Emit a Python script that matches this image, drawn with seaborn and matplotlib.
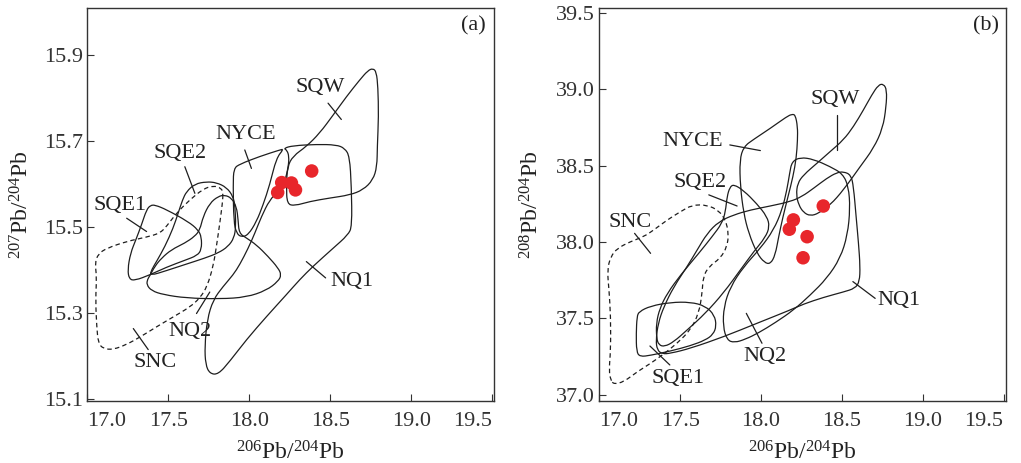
import numpy as np
import matplotlib
matplotlib.use("Agg")
import matplotlib.pyplot as plt
from matplotlib.path import Path
from matplotlib.patches import PathPatch
import seaborn as sns

# ---------------------------------------------------------------------------
# Samples (red dots)
# ---------------------------------------------------------------------------
pb206_204 = [18.385, 18.200, 18.175, 18.285, 18.260]
pb207_204 = [15.630, 15.603, 15.580, 15.586, 15.602]
pb208_204 = [38.235, 38.144, 38.083, 38.034, 37.896]

# ---------------------------------------------------------------------------
# Reference fields, 207Pb/204Pb vs 206Pb/204Pb  (x, y) outline vertices
# ---------------------------------------------------------------------------
SQW_A = [(18.233, 15.553), (18.229, 15.594), (18.235, 15.640), (18.270, 15.665),
         (18.352, 15.687), (18.434, 15.718), (18.517, 15.760), (18.599, 15.803),
         (18.681, 15.842), (18.732, 15.864), (18.763, 15.869), (18.784, 15.861),
         (18.794, 15.826), (18.798, 15.757), (18.790, 15.687), (18.788, 15.640),
         (18.763, 15.609), (18.702, 15.586), (18.619, 15.574), (18.496, 15.567),
         (18.373, 15.559), (18.280, 15.549)]

NQ1_A = [(18.212, 15.683), (18.270, 15.689), (18.414, 15.692), (18.537, 15.691),
         (18.589, 15.683), (18.619, 15.664), (18.630, 15.594), (18.634, 15.501),
         (18.609, 15.481), (18.517, 15.450), (18.393, 15.408), (18.311, 15.377),
         (18.229, 15.342), (18.106, 15.291), (17.982, 15.237), (17.880, 15.187),
         (17.808, 15.156), (17.756, 15.158), (17.730, 15.179), (17.725, 15.222),
         (17.740, 15.284), (17.777, 15.330), (17.838, 15.361), (17.900, 15.388),
         (17.941, 15.412), (17.993, 15.450), (18.034, 15.485), (18.075, 15.524),
         (18.126, 15.563), (18.178, 15.582), (18.219, 15.605), (18.241, 15.640),
         (18.245, 15.664), (18.233, 15.678)]

NYCE_A = [(17.900, 15.598), (17.904, 15.636), (17.941, 15.646), (18.065, 15.664),
          (18.188, 15.679), (18.212, 15.681), (18.167, 15.660), (18.126, 15.598),
          (18.085, 15.551), (18.044, 15.512), (17.993, 15.481), (17.951, 15.476),
          (17.921, 15.485), (17.904, 15.512)]

NQ2_A = [(17.386, 15.386), (17.417, 15.408), (17.458, 15.427), (17.520, 15.447),
         (17.602, 15.462), (17.664, 15.478), (17.695, 15.493), (17.715, 15.524),
         (17.756, 15.555), (17.808, 15.571), (17.849, 15.574), (17.890, 15.567),
         (17.921, 15.547), (17.931, 15.516), (17.937, 15.485), (17.982, 15.474),
         (18.044, 15.458), (18.116, 15.431), (18.178, 15.404), (18.198, 15.388),
         (18.178, 15.373), (18.106, 15.352), (17.982, 15.336), (17.818, 15.332),
         (17.612, 15.334), (17.469, 15.342), (17.397, 15.351), (17.366, 15.365),
         (17.372, 15.378)]

SQE2_A = [(17.736, 15.605), (17.664, 15.600), (17.612, 15.582), (17.588, 15.563),
          (17.561, 15.532), (17.530, 15.497), (17.479, 15.454), (17.427, 15.419),
          (17.397, 15.400), (17.386, 15.386), (17.489, 15.398), (17.602, 15.412),
          (17.725, 15.427), (17.808, 15.439), (17.869, 15.454), (17.906, 15.474),
          (17.917, 15.501), (17.912, 15.547), (17.900, 15.571), (17.859, 15.592),
          (17.797, 15.603)]

SQE1_A = [(17.417, 15.551), (17.489, 15.540), (17.623, 15.512), (17.684, 15.493),
          (17.705, 15.476), (17.705, 15.447), (17.678, 15.433), (17.602, 15.422),
          (17.489, 15.406), (17.386, 15.388), (17.294, 15.375), (17.259, 15.378),
          (17.249, 15.400), (17.267, 15.439), (17.300, 15.470), (17.335, 15.505),
          (17.366, 15.540), (17.390, 15.550)]

SNC_A = [(17.838, 15.578), (17.828, 15.590), (17.777, 15.596), (17.715, 15.588),
         (17.633, 15.563), (17.551, 15.532), (17.489, 15.501), (17.448, 15.485),
         (17.366, 15.476), (17.243, 15.466), (17.119, 15.450), (17.068, 15.437),
         (17.047, 15.416), (17.058, 15.384), (17.051, 15.330), (17.058, 15.268),
         (17.068, 15.229), (17.099, 15.216), (17.160, 15.214), (17.243, 15.226),
         (17.325, 15.243), (17.427, 15.267), (17.530, 15.290), (17.633, 15.313),
         (17.695, 15.334), (17.740, 15.361), (17.777, 15.408), (17.797, 15.454),
         (17.818, 15.509), (17.834, 15.555)]

# ---------------------------------------------------------------------------
# Reference fields, 208Pb/204Pb vs 206Pb/204Pb
# ---------------------------------------------------------------------------
SQW_B = [(18.226, 38.384), (18.218, 38.308), (18.233, 38.242), (18.263, 38.192),
         (18.305, 38.170), (18.356, 38.187), (18.428, 38.242), (18.510, 38.340),
         (18.613, 38.493), (18.696, 38.613), (18.753, 38.744), (18.774, 38.886),
         (18.778, 38.996), (18.757, 39.035), (18.726, 39.028), (18.685, 38.963),
         (18.634, 38.865), (18.572, 38.755), (18.510, 38.668), (18.428, 38.592),
         (18.346, 38.515), (18.263, 38.439)]

NYCE_B = [(18.212, 38.832), (18.226, 38.755), (18.226, 38.668), (18.218, 38.548),
          (18.198, 38.428), (18.167, 38.297), (18.136, 38.166), (18.109, 38.034),
          (18.088, 37.914), (18.058, 37.855), (18.021, 37.864), (17.975, 37.925),
          (17.924, 38.056), (17.893, 38.187), (17.872, 38.362), (17.868, 38.537),
          (17.893, 38.624), (17.955, 38.672), (18.058, 38.744), (18.160, 38.821),
          (18.191, 38.836)]

NQ1_B = [(18.510, 38.460), (18.556, 38.439), (18.572, 38.362), (18.588, 38.166),
         (18.603, 37.991), (18.613, 37.838), (18.609, 37.740), (18.582, 37.696),
         (18.510, 37.672), (18.387, 37.637), (18.263, 37.593), (18.181, 37.554),
         (17.975, 37.467), (17.770, 37.379), (17.564, 37.303), (17.440, 37.270),
         (17.389, 37.266), (17.358, 37.292), (17.350, 37.357), (17.364, 37.467),
         (17.399, 37.576), (17.461, 37.707), (17.543, 37.838), (17.605, 37.947),
         (17.667, 38.056), (17.739, 38.133), (17.831, 38.177), (17.934, 38.209),
         (18.058, 38.235), (18.181, 38.264), (18.253, 38.297), (18.325, 38.351),
         (18.407, 38.417), (18.469, 38.454)]

NQ2_B = [(18.243, 38.554), (18.191, 38.526), (18.177, 38.450), (18.160, 38.340),
         (18.130, 38.209), (18.078, 38.078), (17.996, 37.958), (17.893, 37.838),
         (17.811, 37.707), (17.770, 37.576), (17.765, 37.445), (17.790, 37.357),
         (17.835, 37.340), (17.903, 37.362), (17.986, 37.405), (18.088, 37.471),
         (18.202, 37.554), (18.305, 37.652), (18.407, 37.761), (18.490, 37.893),
         (18.535, 38.045), (18.551, 38.220), (18.541, 38.362), (18.506, 38.445),
         (18.428, 38.493), (18.325, 38.541)]

SQE2_B = [(17.831, 38.377), (17.893, 38.336), (17.975, 38.249), (18.037, 38.166),
          (18.053, 38.100), (18.027, 38.030), (17.955, 37.936), (17.872, 37.816),
          (17.770, 37.668), (17.656, 37.532), (17.543, 37.423), (17.461, 37.346),
          (17.403, 37.314), (17.368, 37.325), (17.354, 37.368), (17.352, 37.467),
          (17.374, 37.565), (17.420, 37.663), (17.502, 37.783), (17.615, 37.925),
          (17.698, 38.035), (17.759, 38.122), (17.780, 38.198), (17.790, 38.297),
          (17.807, 38.358)]

SQE1_B = [(17.245, 37.543), (17.317, 37.580), (17.440, 37.604), (17.564, 37.606),
          (17.656, 37.580), (17.712, 37.521), (17.724, 37.449), (17.704, 37.394),
          (17.656, 37.357), (17.564, 37.320), (17.440, 37.285), (17.317, 37.257),
          (17.251, 37.248), (17.230, 37.281), (17.228, 37.401), (17.233, 37.510)]

SNC_B = [(17.091, 37.067), (17.152, 37.084), (17.235, 37.150), (17.317, 37.204),
         (17.399, 37.266), (17.481, 37.336), (17.564, 37.423), (17.615, 37.532),
         (17.636, 37.663), (17.642, 37.772), (17.677, 37.838), (17.749, 37.893),
         (17.790, 37.969), (17.800, 38.056), (17.780, 38.144), (17.739, 38.205),
         (17.667, 38.242), (17.574, 38.242), (17.502, 38.198), (17.420, 38.144),
         (17.337, 38.078), (17.276, 38.035), (17.193, 38.002), (17.111, 37.958),
         (17.070, 37.903), (17.049, 37.816), (17.060, 37.685), (17.070, 37.510),
         (17.070, 37.292), (17.060, 37.161), (17.070, 37.095)]

# Field names: (label position, leader start, leader end)
LABELS_A = [("SQW", (18.439, 15.825), (18.486, 15.788), (18.568, 15.750)),
            ("NYCE", (17.978, 15.714), (17.972, 15.679), (18.013, 15.636)),
            ("SQE2", (17.571, 15.671), (17.602, 15.640), (17.664, 15.578)),
            ("SQE1", (17.201, 15.549), (17.243, 15.520), (17.366, 15.489)),
            ("NQ1", (18.636, 15.373), (18.352, 15.419), (18.471, 15.381)),
            ("NQ2", (17.633, 15.257), (17.674, 15.298), (17.756, 15.348)),
            ("SNC", (17.421, 15.183), (17.284, 15.263), (17.376, 15.214))]

LABELS_B = [("SQW", (18.459, 38.930), (18.469, 38.832), (18.469, 38.602)),
            ("NYCE", (17.580, 38.657), (17.807, 38.635), (17.996, 38.598)),
            ("SQE2", (17.626, 38.388), (17.677, 38.308), (17.852, 38.235)),
            ("SNC", (17.193, 38.126), (17.218, 38.056), (17.317, 37.925)),
            ("NQ1", (18.850, 37.615), (18.568, 37.740), (18.706, 37.630)),
            ("NQ2", (18.027, 37.248), (17.909, 37.532), (18.006, 37.336)),
            ("SQE1", (17.486, 37.106), (17.313, 37.318), (17.436, 37.194))]

x_ticks = [17.0, 17.5, 18.0, 18.5, 19.0, 19.5]
y_ticks_a = [15.1, 15.3, 15.5, 15.7, 15.9]
y_ticks_b = [37.0, 37.5, 38.0, 38.5, 39.0, 39.5]

# ---------------------------------------------------------------------------
sns.set_style("ticks")
plt.rcParams.update({
    "font.family": ["Liberation Serif", "DejaVu Serif"],
    "mathtext.fontset": "custom",
    "mathtext.rm": "Liberation Serif",
    "mathtext.it": "Liberation Serif:italic",
    "mathtext.bf": "Liberation Serif:bold",
    "mathtext.default": "regular",
    "text.color": "#222222",
    "axes.labelcolor": "#222222",
    "xtick.color": "#333333",
    "ytick.color": "#333333",
})

LINE = "#1e1e1e"
RED = "#e8262b"


def smooth_outline(points):
    """Closed quadratic B-spline path using the vertices as control points."""
    pts = np.asarray(points, dtype=float)
    mids = (pts + np.roll(pts, -1, axis=0)) / 2.0
    verts = [mids[-1]]
    codes = [Path.MOVETO]
    for i in range(len(pts)):
        verts += [pts[i], mids[i]]
        codes += [Path.CURVE3, Path.CURVE3]
    return Path(verts, codes)


def draw_fields(ax, fields, dashed):
    for name, pts in fields.items():
        ls = (0, (3.6, 2.6)) if name in dashed else "-"
        patch = PathPatch(smooth_outline(pts), facecolor="none", edgecolor=LINE,
                          lw=0.9, ls=ls, zorder=2)
        ax.add_patch(patch)


def draw_labels(ax, labels):
    for name, txt, p0, p1 in labels:
        ax.plot([p0[0], p1[0]], [p0[1], p1[1]], color=LINE, lw=0.9, zorder=2)
        ax.text(txt[0], txt[1], name, ha="center", va="center", fontsize=16,
                color="#222222", zorder=3)


def style_axes(ax, xlim, ylim, yticks, ylabel, tag, ylab_x):
    ax.set_xlim(*xlim)
    ax.set_ylim(*ylim)
    ax.set_xticks(x_ticks)
    xlabels = ax.set_xticklabels([f"{v:.1f}" for v in x_ticks])
    # keep the end labels inside the panel edges
    xlabels[0].set_horizontalalignment("left")
    xlabels[-1].set_horizontalalignment("right")
    ax.set_yticks(yticks)
    ax.set_yticklabels([f"{v:.1f}" for v in yticks])
    ax.tick_params(direction="in", length=5, width=0.8, labelsize=16)
    ax.tick_params(axis="x", pad=8)
    ax.tick_params(axis="y", pad=3)
    for sp in ax.spines.values():
        sp.set_visible(True)
        sp.set_linewidth(1.0)
        sp.set_color("#333333")
    ax.set_xlabel(r"$^{206}$Pb/$^{204}$Pb", fontsize=17)
    ax.set_ylabel(ylabel, fontsize=17)
    ax.xaxis.set_label_coords(0.5, -0.133)
    ax.xaxis.label.set_va("center")
    ax.yaxis.set_label_coords(ylab_x, 0.5)
    ax.yaxis.label.set_va("center")
    ax.text(0.95, 0.955, tag, transform=ax.transAxes, ha="center", va="center",
            fontsize=16)


fig = plt.figure(figsize=(10.21, 4.63), dpi=100)
ax_a = fig.add_axes([0.0855, 0.1346, 0.3983, 0.8475])
ax_b = fig.add_axes([0.5870, 0.1346, 0.3983, 0.8475])

fields_a = {"SQW": SQW_A, "NQ1": NQ1_A, "NYCE": NYCE_A, "NQ2": NQ2_A,
            "SQE2": SQE2_A, "SQE1": SQE1_A, "SNC": SNC_A}
fields_b = {"SQW": SQW_B, "NYCE": NYCE_B, "NQ1": NQ1_B, "NQ2": NQ2_B,
            "SQE2": SQE2_B, "SQE1": SQE1_B, "SNC": SNC_B}

draw_fields(ax_a, fields_a, dashed={"SNC"})
draw_labels(ax_a, LABELS_A)
sns.scatterplot(x=pb206_204, y=pb207_204, ax=ax_a, s=95, color=RED,
                edgecolor="none", linewidth=0, zorder=5, legend=False)
style_axes(ax_a, (17.0, 19.51), (15.095, 16.009), y_ticks_a,
           r"$^{207}$Pb/$^{204}$Pb", "(a)", -0.160)

draw_fields(ax_b, fields_b, dashed={"SNC"})
draw_labels(ax_b, LABELS_B)
sns.scatterplot(x=pb206_204, y=pb208_204, ax=ax_b, s=95, color=RED,
                edgecolor="none", linewidth=0, zorder=5, legend=False)
style_axes(ax_b, (17.0, 19.515), (36.96, 39.53), y_ticks_b,
           r"$^{208}$Pb/$^{204}$Pb", "(b)", -0.165)

fig.savefig("out.png", dpi=100)
